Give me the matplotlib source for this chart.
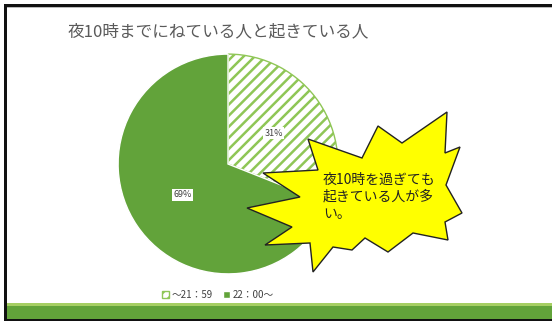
import matplotlib
matplotlib.use("Agg")
import matplotlib.pyplot as plt
from matplotlib.patches import Rectangle, Polygon

plt.rcParams['font.family'] = ['Noto Sans CJK JP', 'DejaVu Sans']
plt.rcParams['hatch.linewidth'] = 1.8

title = "夜10時までにねている人と起きている人"
categories = ["～21：59", "22：00～"]
values = [31, 69]
callout = "夜10時を過ぎても\n起きている人が多\nい。"

W, H = 552, 322
fig = plt.figure(figsize=(W / 100, H / 100), dpi=100)

# overlay axes in pixel coordinates for decorations
deco = fig.add_axes([0, 0, 1, 1], zorder=0)
deco.set_xlim(0, W)
deco.set_ylim(H, 0)
deco.axis('off')
# frame
deco.add_patch(Rectangle((4, 4), W - 4, 2.5, color='#111111', lw=0))
deco.add_patch(Rectangle((4, 4), 2.5, 316, color='#111111', lw=0))
deco.add_patch(Rectangle((6.5, 6.5), W, 1, color='#bbbbbb', lw=0))
# green bottom bar
deco.add_patch(Rectangle((6.5, 302.5), W, 3.5, color='#a6cf63', lw=0))
deco.add_patch(Rectangle((6.5, 306), W, 12.5, color='#62a33a', lw=0))
deco.add_patch(Rectangle((4, 318.5), W, 2.5, color='#111111', lw=0))

fig.text(68 / W, 1 - 32 / H, title, fontsize=12, color='#5a5a5a',
         ha='left', va='center')

# pie
cx, cy, r = 228, 164, 111
ax = fig.add_axes([(cx - r) / W, (H - cy - r) / H, 2 * r / W, 2 * r / H], zorder=1)
wedges, texts, autotexts = ax.pie(
    values, startangle=90, counterclock=False,
    colors=['white', '#62a33a'], autopct='%d%%', pctdistance=0.5,
    wedgeprops=dict(linewidth=1.0),
    textprops=dict(fontsize=6.5, color='#404040'))
wedges[0].set_hatch('///')
wedges[0].set_edgecolor('#8fc656')
wedges[1].set_edgecolor('white')
for t in autotexts:
    t.set_bbox(dict(facecolor='white', edgecolor='none', pad=1.0))
ax.set_xlim(-1.01, 1.01)
ax.set_ylim(-1.01, 1.01)
ax.set_aspect('equal')

leg = ax.legend(wedges, categories, loc='center', ncol=2,
                bbox_to_anchor=(218 / W, 1 - 295 / H),
                bbox_transform=fig.transFigure, frameon=False,
                fontsize=7, handlelength=0.7, handleheight=0.7,
                handletextpad=0.3, columnspacing=1.0, labelcolor='#404040')

# starburst callout
top = fig.add_axes([0, 0, 1, 1], zorder=3)
top.set_xlim(0, W)
top.set_ylim(H, 0)
top.axis('off')
burst = [(308, 139), (362, 158), (378, 126), (402, 143), (447, 112),
         (445, 153), (460, 147), (446, 185), (462, 213), (445, 222),
         (448, 240), (413, 233), (388, 252), (365, 238), (352, 250),
         (333, 247), (313, 272), (310, 243), (265, 245), (292, 227),
         (247, 208), (300, 197), (263, 173), (318, 170)]
top.add_patch(Polygon(burst, closed=True, facecolor='#ffff00',
                      edgecolor='#222222', lw=1.0))
top.text(323, 197, callout, fontsize=10, color='#222222', ha='left',
         va='center', linespacing=1.3)

fig.savefig('out.png', dpi=100)
